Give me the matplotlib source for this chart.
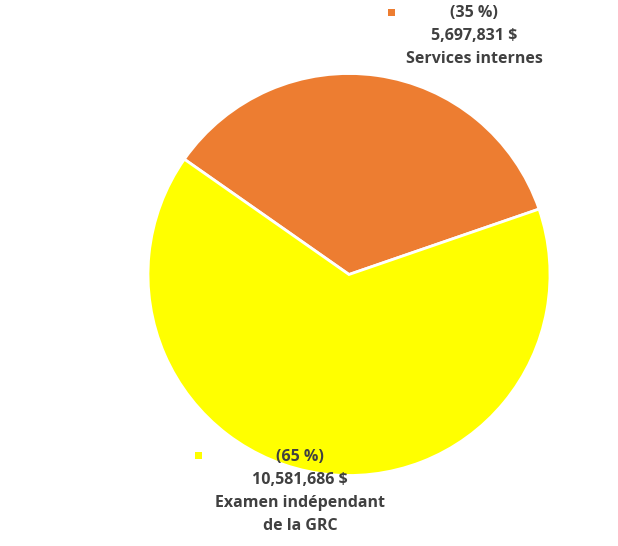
import matplotlib
matplotlib.use("Agg")
import matplotlib.pyplot as plt

# --- data ---------------------------------------------------------------
categories = ["Services internes", "Examen indépendant\nde la GRC"]
amounts = [5697831, 10581686]
percents = [35, 65]
colors = ["#ED7D31", "#FFFF00"]

TEXT = "#404040"
W, H = 618, 546

fig = plt.figure(figsize=(W / 100, H / 100), dpi=100)
ax = fig.add_axes([0, 0, 1, 1])

ax.pie(amounts, colors=colors, startangle=145, counterclock=False,
       center=(349, H - 274.5), radius=201,
       wedgeprops=dict(edgecolor="white", linewidth=2))

ax.set_xlim(0, W)
ax.set_ylim(0, H)
ax.set_aspect("equal")
ax.axis("off")

# label anchors (pixel coords from top-left): text centre x, first line y, marker x, marker y
label_pos = [(474, 13, 391, 12), (300, 457, 198, 455)]

for cat, amt, pct, col, (tx, ty, mx, my) in zip(categories, amounts, percents, colors, label_pos):
    lines = [f"({pct} %)", f"{amt:,} $"] + cat.split("\n")
    for i, line in enumerate(lines):
        ax.text(tx, H - (ty + 23 * i), line, ha="center", va="center",
                fontsize=11.5, fontweight="bold", color=TEXT, family="Open Sans", zorder=5)
    ax.add_patch(plt.Rectangle((mx - 3.5, H - my - 3.5), 7, 7, facecolor=col,
                               edgecolor="none", zorder=5))

fig.savefig("out.png", dpi=100)
